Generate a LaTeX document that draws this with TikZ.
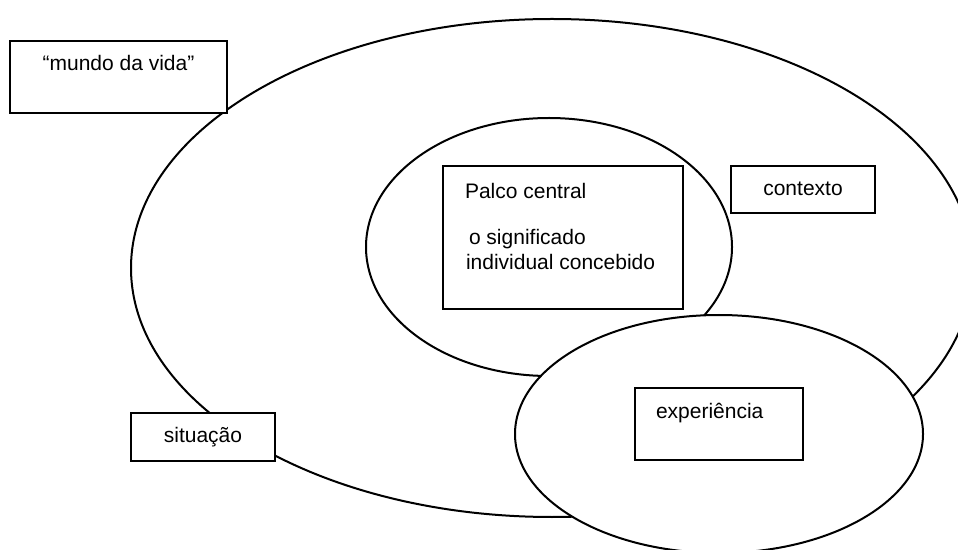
\documentclass[tikz,border=0pt]{standalone}
\usepackage{fontspec}
\setmainfont{Liberation Sans}
\usetikzlibrary{shapes.geometric}

\tikzset{
  oval/.style={ellipse, draw, line width=1pt, inner sep=0pt, outer sep=0pt},
  labelbox/.style={rectangle, draw, line width=1.3pt, inner sep=0pt, outer sep=0pt, fill=white},
  txt/.style={inner sep=0pt, outer sep=0pt, font=\fontsize{10.5pt}{12.5pt}\selectfont}
}

\begin{document}
\begin{tikzpicture}[x=0.5pt, y=-0.5pt]
  \useasboundingbox (0,0) rectangle (958,550);
  \clip (0,0) rectangle (958,550);
  \fill[white] (0,0) rectangle (958,550);

  % outer context
  \node[oval, minimum width=421pt, minimum height=249pt] (mundo) at (552,268) {};
  % central stage
  \node[oval, fill=white, minimum width=183pt, minimum height=129pt] (palco) at (549,247) {};
  \node[labelbox, minimum width=120pt, minimum height=71.5pt] (palcobox) at (563,237.5) {};
  \node[labelbox, minimum width=72pt, minimum height=23.5pt] (contexto) at (803,189.5) {};
  % experience, drawn on top
  \node[oval, fill=white, minimum width=204pt, minimum height=119pt] (exp) at (719,434) {};
  \node[labelbox, minimum width=84pt, minimum height=36pt] (expbox) at (719,424) {};
  % boxes overlapping the outer oval
  \node[labelbox, minimum width=108.5pt, minimum height=36pt] (mundobox) at (118.5,77) {};
  \node[labelbox, minimum width=72pt, minimum height=24pt] (situacao) at (203,437) {};

  % texts
  \node[txt, anchor=base] (tmundo) at (118.5,71) {“mundo da vida”};
  \node[txt, anchor=base] (tcontexto) at (803,196) {contexto};
  \node[txt, anchor=base] (tsituacao) at (203,443) {situação};
  \node[txt, anchor=base west] (texp) at (656,418) {experiência};
  \node[txt, anchor=base west] (tpalco1) at (465,199) {Palco central};
  \node[txt, anchor=base west] (tpalco2) at (469,245) {o significado};
  \node[txt, anchor=base west] (tpalco3) at (466,270) {individual concebido};
\end{tikzpicture}
\end{document}
